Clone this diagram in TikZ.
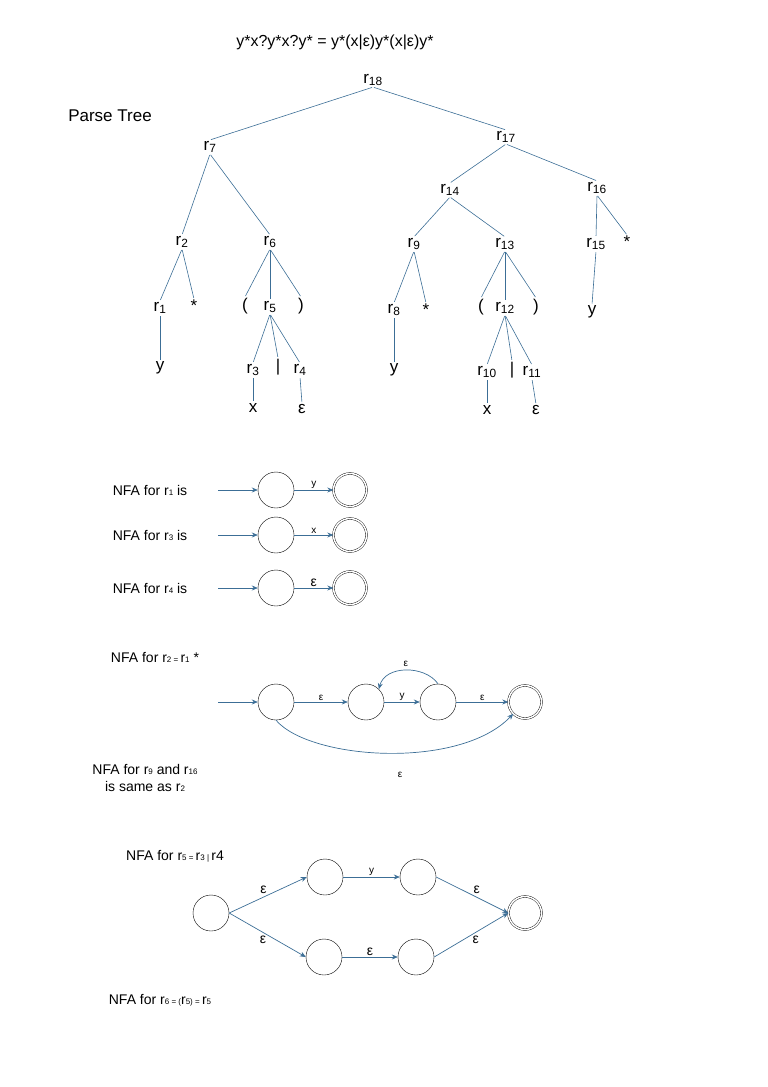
\documentclass[tikz,border=0pt]{standalone}
\usepackage{fontspec}
\setmainfont{Liberation Sans}
\usetikzlibrary{arrows.meta}
\definecolor{ln}{RGB}{60,110,150}
\newcommand{\rr}[1]{r\textsubscript{#1}}
\begin{document}
\begin{tikzpicture}[x=1pt,y=-1pt,
  tn/.style={inner sep=1pt,font=\fontsize{17}{19}\selectfont},
  te/.style={draw=ln,line width=0.6pt,shorten <=1pt,shorten >=1pt},
  st/.style={circle,draw,minimum size=36pt,inner sep=0pt},
  fin/.style={st,double,double distance=1.5pt,minimum size=33pt},
  ar/.style={draw=ln,line width=0.7pt,-{Stealth[length=6pt,width=5pt]}},
  lb/.style={font=\fontsize{10}{12}\selectfont,inner sep=1pt},
  lbb/.style={font=\fontsize{14}{16}\selectfont,inner sep=1pt},
  nl/.style={font=\fontsize{14}{17}\selectfont,inner sep=1pt}]
\useasboundingbox (0,0) rectangle (768,1087);
\node[tn,font=\fontsize{16}{18}\selectfont] at (335,42) {y*x?y*x?y* = y*(x|ε)y*(x|ε)y*};
\node[tn] at (110,116) {Parse Tree};
\node[tn] (r18) at (373,80) {\rr{18}};
\node[tn] (r7) at (210,147) {\rr{7}};
\node[tn] (r17) at (506,137) {\rr{17}};
\node[tn] (r14) at (450,190) {\rr{14}};
\node[tn] (r16) at (597,188) {\rr{16}};
\node[tn] (r2) at (182,242) {\rr{2}};
\node[tn] (r6) at (270,242) {\rr{6}};
\node[tn] (r9) at (414,244) {\rr{9}};
\node[tn] (r13) at (505,244) {\rr{13}};
\node[tn] (r15) at (596,244) {\rr{15}};
\node[tn] (s3) at (627,242) {*};
\node[tn] (r1) at (160,308) {\rr{1}};
\node[tn] (s1) at (194,306) {*};
\node[tn] (lp1) at (245,306) {(};
\node[tn] (r5) at (270,307) {\rr{5}};
\node[tn] (rp1) at (301,306) {)};
\node[tn] (r8) at (394,310) {\rr{8}};
\node[tn] (s2) at (426,310) {*};
\node[tn] (lp2) at (481,307) {(};
\node[tn] (r12) at (505,308) {\rr{12}};
\node[tn] (rp2) at (536,307) {)};
\node[tn] (y3) at (592,312) {y};
\node[tn] (y1) at (160,368) {y};
\node[tn] (r3) at (253,370) {\rr{3}};
\node[tn] (b1) at (278,367) {|};
\node[tn] (r4) at (300,370) {\rr{4}};
\node[tn] (y2) at (394,370) {y};
\node[tn] (r10) at (487,372) {\rr{10}};
\node[tn] (b2) at (512,370) {|};
\node[tn] (r11) at (532,372) {\rr{11}};
\node[tn] (x1) at (253,408) {x};
\node[tn] (e1) at (302,409) {ε};
\node[tn] (x2) at (487,410) {x};
\node[tn] (e2) at (536,410) {ε};
\foreach \a/\b in {r18/r7,r18/r17,r7/r2,r7/r6,r17/r14,r17/r16,r14/r9,r14/r13,r16/r15,r16/s3,r2/r1,r2/s1,r6/lp1,r6/r5,r6/rp1,r9/r8,r9/s2,r13/lp2,r13/r12,r13/rp2,r15/y3,r1/y1,r5/r3,r5/b1,r5/r4,r8/y2,r12/r10,r12/b2,r12/r11,r3/x1,r4/e1,r10/x2,r11/e2}
  \draw[te] (\a.south) -- (\b.north);
% simple NFAs
\foreach \yy/\lab/\sym/\k/\ls in {490/1/y/a/lb,535/3/x/b/lb,588/4/ε/c/lbb}{
  \node[nl] at (150,\yy) {NFA for r{\footnotesize\lab} is};
  \coordinate (s\k) at (218,\yy);
  \node[st] (p\k) at (276,\yy) {};
  \node[fin] (q\k) at (350,\yy) {};
  \draw[ar] (s\k) -- (p\k);
  \draw[ar] (p\k) -- node[\ls,above]{\sym} (q\k);
}
% r2 = r1*
\node[nl] at (155,657) {NFA for r{\footnotesize 2 = }r{\footnotesize 1} *};
\coordinate (sd) at (218,702);
\node[st] (d1) at (276,702) {};
\node[st] (d2) at (366,702) {};
\node[st] (d3) at (438,702) {};
\node[fin] (d4) at (525,702) {};
\draw[ar] (sd) -- (d1);
\draw[ar] (d1) -- node[lb,above]{ε} (d2);
\draw[ar] (d2) -- node[lb,above]{y} (d3);
\draw[ar] (d3) -- node[lb,above]{ε} (d4);
\draw[ar] (d3.north) .. controls (425,665) and (385,665) .. node[lb,above=2pt]{ε} (d2.north east);
\draw[ar] (d1.south) .. controls (310,760) and (460,770) .. (d4.south west);
\node[lb] at (400,775) {ε};
\node[nl,align=center] at (145,778) {NFA for r{\footnotesize 9} and r{\footnotesize 16}\\is same as r{\footnotesize 2}};
% r5 = r3|r4
\node[nl] at (175,856) {NFA for r{\footnotesize 5 = }r{\footnotesize 3 | }r4};
\node[st] (u0) at (211,913) {};
\node[st] (u1) at (325,877) {};
\node[st] (u2) at (418,877) {};
\node[st] (l1) at (324,957) {};
\node[st] (l2) at (416,957) {};
\node[fin] (uf) at (525,913) {};
\draw[ar] (u0.east) -- node[lbb,above left]{ε} (u1.west);
\draw[ar] (u1) -- node[lb,above]{y} (u2);
\draw[ar] (u2.east) -- node[lbb,above right]{ε} (uf.west);
\draw[ar] (u0.east) -- node[lbb,below left]{ε} (l1.west);
\draw[ar] (l1) -- node[lbb,above]{ε} (l2);
\draw[ar] (l2.east) -- node[lbb,below right]{ε} (uf.west);
\node[nl] at (160,1000) {NFA for r{\footnotesize 6 = (}r{\footnotesize 5) = }r{\footnotesize 5}};
\end{tikzpicture}
\end{document}
